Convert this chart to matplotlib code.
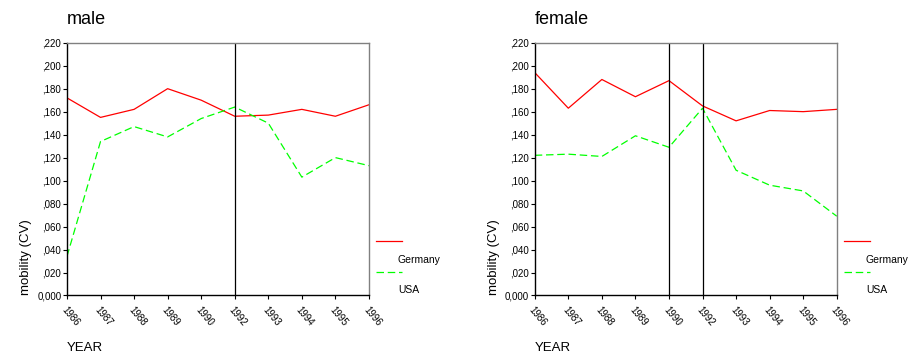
import numpy as np
import matplotlib
matplotlib.use('Agg')
import matplotlib.pyplot as plt
from matplotlib.ticker import FuncFormatter

plt.rcParams['font.family'] = ['Liberation Sans', 'DejaVu Sans']

years = ['1986', '1987', '1988', '1989', '1990', '1992', '1993', '1994', '1995', '1996']
yticks = [0.0, 0.02, 0.04, 0.06, 0.08, 0.10, 0.12, 0.14, 0.16, 0.18, 0.20, 0.22]

male_germany = [0.172, 0.155, 0.162, 0.180, 0.170, 0.156, 0.157, 0.162, 0.156, 0.166]
male_usa = [0.034, 0.134, 0.147, 0.138, 0.154, 0.164, 0.150, 0.103, 0.120, 0.113]
female_germany = [0.194, 0.163, 0.188, 0.173, 0.187, 0.165, 0.152, 0.161, 0.160, 0.162]
female_usa = [0.122, 0.123, 0.121, 0.139, 0.129, 0.163, 0.109, 0.096, 0.091, 0.069]

male_vlines = ['1992']
female_vlines = ['1990', '1992']


def fmt(v, pos):
    if v < 0.001:
        return '0,000'
    return ',%03d' % round(v * 1000)


fig = plt.figure(figsize=(9.11, 3.56), dpi=100)

panels = [
    ('male', male_germany, male_usa, male_vlines, 0.0735),
    ('female', female_germany, female_usa, female_vlines, 0.587),
]

for title, ger, usa, vl, left in panels:
    ax = fig.add_axes([left, 0.170, 0.3315, 0.710])
    x = np.arange(len(years))
    ax.plot(x, ger, color='#ff0000', lw=0.9)
    ax.plot(x, usa, color='#00ff00', lw=0.9, dashes=(6, 3))
    for v in vl:
        ax.axvline(years.index(v), color='black', lw=0.9)
    ax.set_xlim(0, len(years) - 1)
    ax.set_ylim(0, 0.22)
    ax.set_yticks(yticks)
    ax.yaxis.set_major_formatter(FuncFormatter(fmt))
    ax.set_xticks(x)
    ax.set_xticklabels(years, rotation=-50, ha='left', va='top', rotation_mode='anchor')
    ax.tick_params(labelsize=7, length=3, width=0.8, pad=1)
    ax.tick_params(axis='x', pad=4)
    for s in ['top', 'right']:
        ax.spines[s].set_color('#808080')
    for s in ax.spines.values():
        s.set_linewidth(1.0)
    ax.set_title(title, loc='left', fontsize=13, x=0.0, y=1.04)
    ax.set_ylabel('mobility (CV)', fontsize=9.5, y=0.0, ha='left', labelpad=4)
    bb = ax.get_position()
    fig.text(bb.x0, 0.005, 'YEAR', fontsize=9.5, ha='left', va='bottom')

    # legend drawn by hand to the right of the axes
    lx0 = bb.x1 + 7 / 911
    lx1 = bb.x1 + 33 / 911
    fig.add_artist(plt.Line2D([lx0, lx1], [1 - 241 / 356] * 2, color='#ff0000', lw=0.9))
    fig.add_artist(plt.Line2D([lx0, lx1], [1 - 272 / 356] * 2, color='#00ff00', lw=0.9, dashes=(6, 3)))
    fig.text(bb.x1 + 29 / 911, 1 - 260 / 356, 'Germany', fontsize=7.5, va='center')
    fig.text(bb.x1 + 29 / 911, 1 - 290 / 356, 'USA', fontsize=7.5, va='center')

fig.savefig('out.png', dpi=100)
